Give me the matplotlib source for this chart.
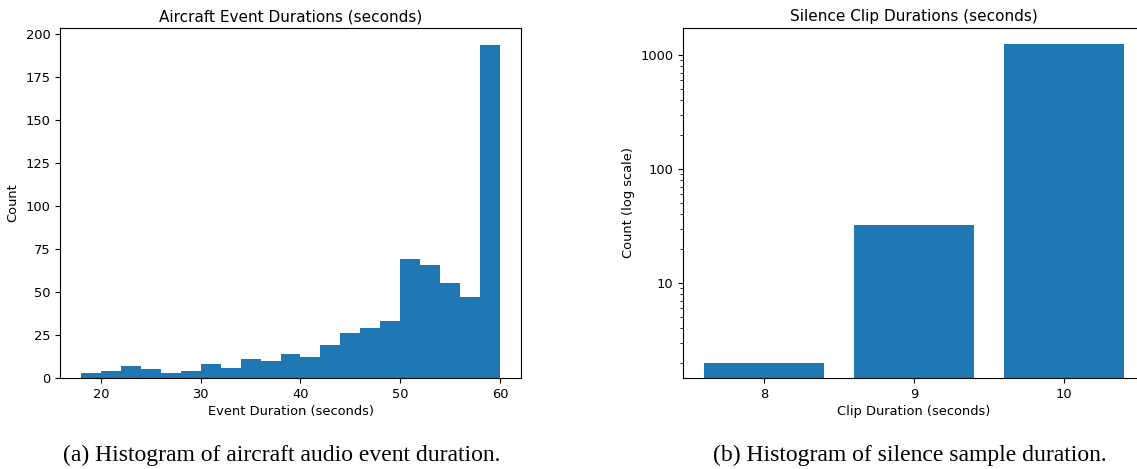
import numpy as np
import matplotlib
matplotlib.use("Agg")
import matplotlib.pyplot as plt

# left panel: histogram of aircraft event durations (bin edges every 2 s)
bin_edges = [18, 20, 22, 24, 26, 28, 30, 32, 34, 36, 38, 40,
             42, 44, 46, 48, 50, 52, 54, 56, 58, 60]
bin_counts = [3, 4, 7, 5, 3, 4, 8, 6, 11, 10, 14, 12,
              19, 26, 29, 33, 69, 66, 55, 47, 194]

# right panel: silence clip durations (log scale)
clip_durations = [8, 9, 10]
clip_counts = [2, 32, 1250]

captions = ["(a) Histogram of aircraft audio event duration.",
            "(b) Histogram of silence sample duration."]

W, H = 1137, 469
fig = plt.figure(figsize=(W / 100, H / 100), dpi=100)


def box(x0, y0, x1, y1):
    # pixel box -> figure fraction
    return [x0 / W, 1 - y1 / H, (x1 - x0) / W, (y1 - y0) / H]


tick_fs = 9.4
title_fs = 11

# --- left: aircraft events
ax1 = fig.add_axes(box(60, 28, 521, 378))
centers = [(a + b) / 2 for a, b in zip(bin_edges[:-1], bin_edges[1:])]
ax1.hist(centers, bins=bin_edges, weights=bin_counts, color="#1f77b4")
ax1.set_title("Aircraft Event Durations (seconds)", fontsize=title_fs, pad=5)
ax1.set_xlabel("Event Duration (seconds)", fontsize=tick_fs, labelpad=3)
ax1.set_ylabel("Count", fontsize=tick_fs)
ax1.set_yticks(np.arange(0, 201, 25))
ax1.tick_params(labelsize=tick_fs)

# --- right: silence clips, extends past the right edge like the source crop
ax2 = fig.add_axes(box(683, 28, 1145, 378))
ax2.bar(clip_durations, clip_counts, width=0.8, color="#1f77b4")
ax2.set_yscale("log")
ax2.set_ylim(1.47, 1726)
ax2.set_xticks(clip_durations)
ax2.set_yticks([10, 100, 1000])
ax2.set_yticklabels(["10", "100", "1000"])
ax2.set_title("Silence Clip Durations (seconds)", fontsize=title_fs, pad=5)
ax2.set_xlabel("Clip Duration (seconds)", fontsize=tick_fs, labelpad=3)
ax2.set_ylabel("Count (log scale)", fontsize=tick_fs)
ax2.tick_params(labelsize=tick_fs)
ax2.tick_params(which="minor", length=2)

fig.text(282 / W, 1 - 455 / H, captions[0], ha="center", va="center",
         family="Liberation Serif", fontsize=17)
fig.text(910 / W, 1 - 455 / H, captions[1], ha="center", va="center",
         family="Liberation Serif", fontsize=17)

fig.savefig("out.png", dpi=100)
